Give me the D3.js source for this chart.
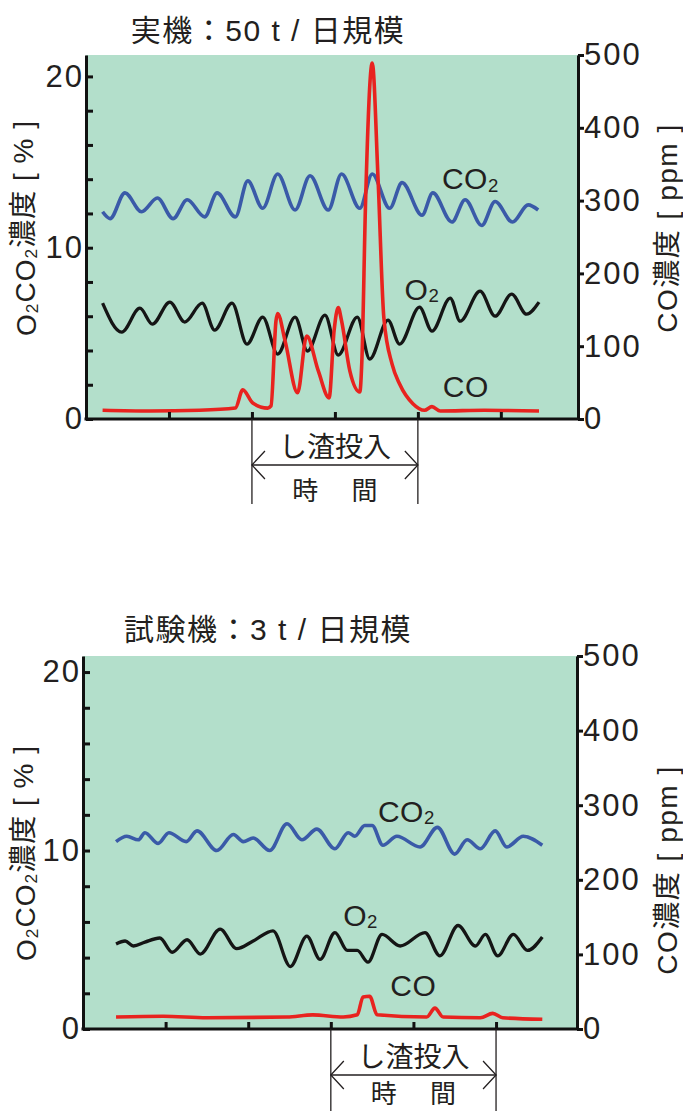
<!DOCTYPE html>
<html>
<head>
<meta charset="utf-8">
<script src="https://cdn.jsdelivr.net/npm/d3@7"></script>
<style>
  body { margin: 0; background: #fff; }
  svg { display: block; }
  text { font-family: "Liberation Sans", "Noto Sans CJK JP", sans-serif; fill: #231f20; }
</style>
</head>
<body>
<svg id="chart" width="683" height="1111"></svg>
<script>
// 実機 50 t/日 : [time, value]
const realCO2 = [
  [2.0, 12.1], [2.9, 11.7], [4.7, 13.2], [6.7, 12.1], [8.6, 12.9], [10.5, 11.7],
  [12.2, 12.8], [14.3, 11.8], [15.8, 13.2], [18.0, 11.8], [19.5, 13.9], [21.3, 12.3],
  [23.1, 14.3], [25.2, 12.2], [27.0, 14.2], [29.2, 12.2], [30.8, 14.3], [33.0, 12.3],
  [34.5, 14.3], [36.6, 12.3], [38.1, 13.8], [40.5, 11.9], [41.8, 13.2], [44.1, 11.5],
  [45.7, 12.8], [47.7, 11.3], [49.3, 12.7], [51.4, 11.5], [53.3, 12.5], [54.5, 12.2],
];
const realO2 = [
  [2.0, 6.76], [4.3, 5.07], [6.5, 6.47], [8.0, 5.54], [10.1, 6.82], [11.9, 5.66],
  [14.0, 6.76], [15.5, 5.19], [17.6, 6.76], [19.4, 4.37], [21.3, 5.95], [23.1, 3.79],
  [25.2, 5.95], [26.7, 3.97], [28.8, 6.06], [30.4, 3.73], [32.7, 5.95], [34.2, 3.5],
  [36.4, 5.77], [37.8, 4.37], [40.2, 6.53], [41.7, 5.13], [43.9, 7.06], [45.1, 5.71],
  [47.5, 7.46], [49.3, 6.0], [51.3, 7.29], [53.1, 6.12], [54.6, 6.82],
];
const realCO = [ // ppm
  [2.0, 12], [7.7, 11], [13.7, 12], [18.0, 15], [18.9, 40], [20.1, 22], [21.9, 15],
  [22.3, 18], [22.9, 135], [23.1, 145], [24.0, 107], [25.5, 36], [26.6, 114], [28.0, 66],
  [29.3, 29], [29.9, 121], [30.4, 153], [30.8, 135], [31.8, 66], [33.0, 37], [33.25, 80],
  [33.7, 300], [34.5, 489], [35.2, 330], [35.9, 139], [36.9, 75], [37.8, 48], [39.4, 21],
  [40.8, 12], [41.7, 17], [42.7, 11], [48.0, 12], [54.6, 11],
];

// 試験機 3 t/日 : [time, value]
const testCO2 = [
  [4.0, 10.5], [5.3, 10.8], [6.7, 10.6], [7.5, 11.0], [9.1, 10.4], [10.4, 11.0],
  [12.5, 10.5], [13.8, 11.1], [16.2, 10.0], [18.2, 10.9], [19.4, 10.5], [20.6, 10.7],
  [22.6, 10.0], [24.7, 11.5], [26.5, 10.6], [28.3, 11.2], [30.5, 10.1], [32.1, 11.0],
  [32.9, 10.8], [34.1, 11.4], [35.0, 11.4], [36.3, 10.3], [38.0, 10.8], [40.8, 10.2],
  [42.9, 11.3], [45.0, 9.8], [46.5, 10.6], [48.1, 10.1], [49.9, 11.1], [51.3, 10.2],
  [53.3, 10.8], [55.6, 10.3],
];
const testO2 = [
  [4.0, 4.76], [5.1, 4.93], [6.1, 4.65], [7.5, 4.87], [9.3, 5.1], [10.8, 4.3],
  [12.6, 5.0], [14.2, 4.2], [16.6, 5.6], [18.6, 4.5], [20.6, 4.93], [23.0, 5.5],
  [25.1, 3.5], [27.1, 5.2], [28.7, 3.9], [30.5, 5.4], [32.0, 4.4], [33.2, 4.4],
  [34.5, 3.75], [36.2, 5.3], [38.4, 4.65], [41.4, 5.4], [43.2, 4.1], [45.4, 5.8],
  [47.5, 4.65], [48.7, 5.3], [50.2, 4.1], [52.1, 5.3], [53.8, 4.4], [55.6, 5.15],
];
const testCO = [ // ppm
  [4.0, 16], [9.7, 17], [15.0, 15], [24.7, 16], [27.8, 19], [31.5, 16], [33.2, 19],
  [33.9, 43], [34.7, 44], [35.6, 19], [41.6, 16], [42.6, 28], [43.6, 16], [48.1, 15],
  [49.6, 21], [50.8, 15], [55.6, 13],
];

const leftTicks = [0, 2, 4, 6, 8, 10, 12, 14, 16, 18, 20];
const rightTicks = [0, 100, 200, 300, 400, 500];
const timeTicks = [10, 20, 30, 40, 50];

const panels = [
  {
    title: "実機：50 t / 日規模", titleY: 41,
    x0: 86, x1: 578, xMax: 59.3, y0: 419, y1: 55, leftMax: 21.25,
    co2: realCO2, o2: realO2, co: realCO, bracket: [20, 40],
    labels: { co2: [42.9, 13.4], o2: [38.4, 6.95], co: [43, 1.28] },
    leftLabelY: 228, rightLabelY: 228, textLast: 81,
  },
  {
    title: "試験機：3 t / 日規模", titleY: 640,
    x0: 83, x1: 577, xMax: 59.8, y0: 1029, y1: 656, leftMax: 20.9,
    co2: testCO2, o2: testO2, co: testCO, bracket: [30, 50],
    labels: { co2: [35.7, 11.6], o2: [31.5, 5.77], co: [37.2, 1.85] },
    leftLabelY: 853, rightLabelY: 870, textLast: 74,
  },
];

const svg = d3.select("#chart");

function subLabel(sel, parts) {
  // parts: [text, isSub]
  parts.forEach(([t, sub], i) => {
    const prev = i > 0 && parts[i - 1][1];
    sel.append("tspan")
      .attr("font-size", sub ? "0.62em" : null)
      .attr("dy", sub ? "0.12em" : (prev ? "-0.12em" : null))
      .text(t);
  });
}

function drawPanel(p) {
  const g = svg.append("g");
  const x = d3.scaleLinear().domain([0, p.xMax]).range([p.x0, p.x1]);
  const yL = d3.scaleLinear().domain([0, p.leftMax]).range([p.y0, p.y1]);
  const yR = d3.scaleLinear().domain([0, 500]).range([p.y0, p.y1]);

  g.append("rect")
    .attr("x", p.x0).attr("y", p.y1)
    .attr("width", p.x1 - p.x0).attr("height", p.y0 - p.y1)
    .attr("fill", "#b3dfcb");

  g.append("text")
    .attr("x", 268).attr("y", p.titleY)
    .attr("text-anchor", "middle")
    .attr("font-size", 30).attr("letter-spacing", 1.5)
    .text(p.title);

  const lineL = d3.line().x(d => x(d[0])).y(d => yL(d[1])).curve(d3.curveMonotoneX);
  const lineR = d3.line().x(d => x(d[0])).y(d => yR(d[1])).curve(d3.curveMonotoneX);

  g.append("path").datum(p.co2).attr("d", lineL)
    .attr("fill", "none").attr("stroke", "#3a5aa8").attr("stroke-width", 3.6);
  g.append("path").datum(p.o2).attr("d", lineL)
    .attr("fill", "none").attr("stroke", "#151515").attr("stroke-width", 3.3);
  g.append("path").datum(p.co).attr("d", lineR)
    .attr("fill", "none").attr("stroke", "#e8231f").attr("stroke-width", 3.6)
    .attr("stroke-linejoin", "round");

  // series labels
  const lab = (pos) => g.append("text")
    .attr("x", x(pos[0])).attr("y", yL(pos[1]))
    .attr("font-size", 30).attr("letter-spacing", 0.5);
  subLabel(lab(p.labels.co2), [["CO", false], ["2", true]]);
  subLabel(lab(p.labels.o2), [["O", false], ["2", true]]);
  lab(p.labels.co).text("CO");

  // axes
  const axL = g.append("g").attr("transform", `translate(${p.x0},0)`)
    .call(d3.axisLeft(yL).tickValues(leftTicks).tickSize(-7).tickSizeOuter(0)
      .tickPadding(2).tickFormat(d => d % 10 === 0 ? d : ""));
  const axR = g.append("g").attr("transform", `translate(${p.x1},0)`)
    .call(d3.axisRight(yR).tickValues(rightTicks).tickSize(6).tickSizeOuter(0).tickPadding(0));
  const axB = g.append("g").attr("transform", `translate(0,${p.y0})`)
    .call(d3.axisBottom(x).tickValues(timeTicks).tickSize(-7).tickSizeOuter(0).tickFormat(""));

  [axL, axR, axB].forEach(a => {
    a.select(".domain").attr("stroke", "#111").attr("stroke-width", 3);
    a.selectAll(".tick line").attr("stroke", "#111").attr("stroke-width", 3);
    a.selectAll(".tick text").attr("fill", "#231f20")
      .attr("font-family", '"Liberation Sans", sans-serif').attr("font-size", 31)
      .attr("letter-spacing", 2);
  });
  axB.select(".domain").attr("d", `M${p.x0 - 1.5},0H${p.x1 + 1.5}`);

  // axis titles
  const lt = g.append("text")
    .attr("transform", `translate(36,${p.leftLabelY}) rotate(-90)`)
    .attr("text-anchor", "middle").attr("font-size", 28).attr("letter-spacing", 1);
  subLabel(lt, [["O", false], ["2", true], ["CO", false], ["2", true], ["濃度 [ % ]", false]]);

  g.append("text")
    .attr("transform", `translate(677,${p.rightLabelY}) rotate(-90)`)
    .attr("text-anchor", "middle").attr("font-size", 28).attr("letter-spacing", 1.5)
    .text("CO濃度 [ ppm ]");

  // slag charging bracket
  const bx0 = x(p.bracket[0]), bx1 = x(p.bracket[1]);
  const by = p.y0 + 46;
  const bk = g.append("g").attr("stroke", "#231f20").attr("stroke-width", 1.3).attr("fill", "none");
  bk.append("line").attr("x1", bx0).attr("x2", bx0).attr("y1", p.y0).attr("y2", p.y0 + 85);
  bk.append("line").attr("x1", bx1).attr("x2", bx1).attr("y1", p.y0).attr("y2", p.y0 + 85);
  bk.append("line").attr("x1", bx0).attr("x2", bx1).attr("y1", by).attr("y2", by);
  bk.append("path").attr("d", `M${bx0 + 13},${by - 14}L${bx0},${by}L${bx0 + 13},${by + 14}`);
  bk.append("path").attr("d", `M${bx1 - 13},${by - 14}L${bx1},${by}L${bx1 - 13},${by + 14}`);

  g.append("text")
    .attr("x", (bx0 + bx1) / 2).attr("y", p.y0 + 38)
    .attr("text-anchor", "middle").attr("font-size", 28)
    .text("し渣投入");
  g.append("text")
    .attr("x", (bx0 + bx1) / 2).attr("y", p.y0 + p.textLast)
    .attr("text-anchor", "middle").attr("font-size", 26)
    .attr("xml:space", "preserve")
    .text("時　 間");
}

panels.forEach(drawPanel);
</script>
</body>
</html>
